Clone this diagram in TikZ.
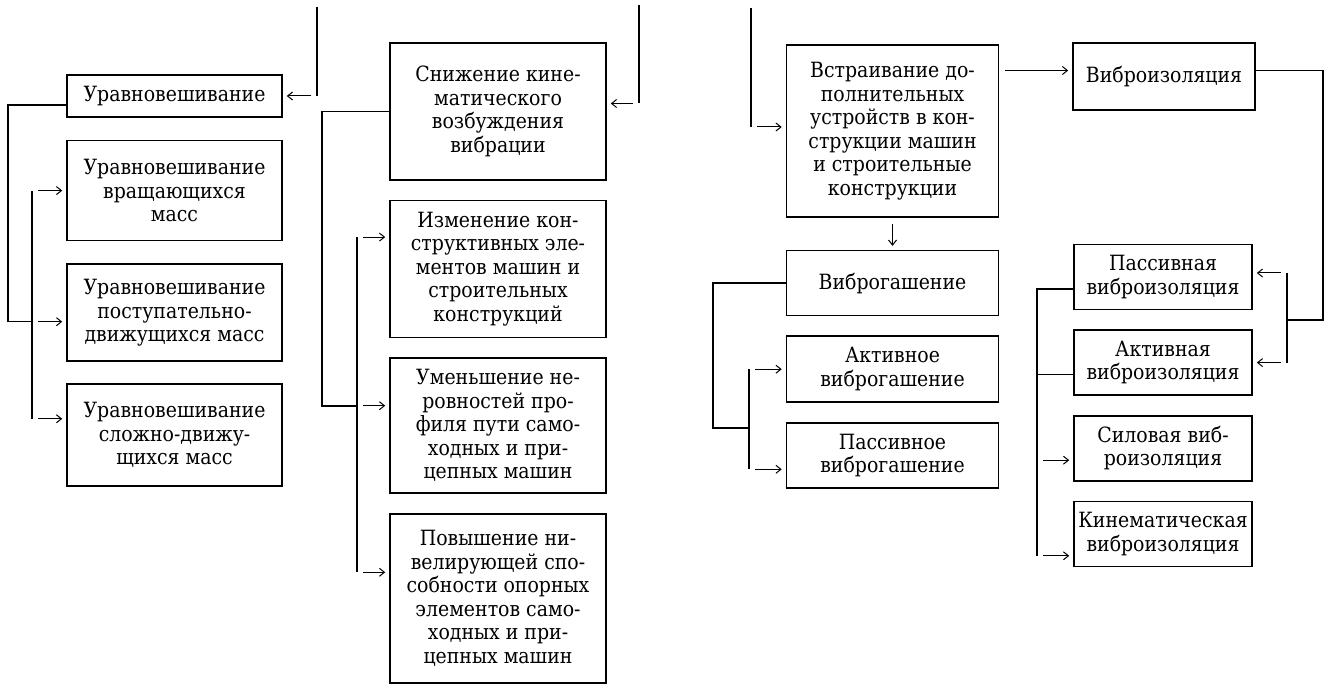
\documentclass[tikz,border=0pt]{standalone}
\usepackage{fontspec}
\setmainfont{DejaVu Serif}[FakeStretch=0.9]
\usetikzlibrary{arrows.meta,positioning}

\begin{document}
\begin{tikzpicture}[
        x=0.5pt, y=-0.5pt,
        font=\fontsize{10.5}{11.75}\selectfont,
        box/.style={draw, line width=0.8pt, align=center, inner xsep=1pt, inner ysep=2pt},
        lcol/.style={box, minimum width=107.5pt},
        mcol/.style={box, minimum width=108pt},
        rcol/.style={box, minimum width=106pt},
        icol/.style={box, minimum width=89pt},
        bus/.style={line width=0.8pt},
        arr/.style={-{Straight Barb[length=2.5pt,width=4pt]}, line width=0.5pt, shorten <=3pt, shorten >=2pt}
    ]
        \useasboundingbox (0,0) rectangle (1331,689);
        % уравновешивание
        \node[lcol, minimum height=21pt] (urav) at (174.5,96) {Уравновешивание};
        \node[lcol, minimum height=50pt, below=11pt of urav] (uvr) {Уравновешивание\\вращающихся\\масс};
        \node[lcol, minimum height=48.5pt, below=11pt of uvr] (upd) {Уравновешивание\\поступательно-\\движущихся масс};
        \node[lcol, minimum height=51pt, below=10.5pt of upd] (usl) {Уравновешивание\\сложно-движу-\\щихся масс};
        % снижение кинематического возбуждения
        \node[mcol, minimum height=68.5pt] (snizh) at (498,111.5) {Снижение кине-\\матического\\возбуждения\\вибрации};
        \node[mcol, minimum height=68.5pt, below=9.5pt of snizh] (izm) {Изменение кон-\\структивных эле-\\ментов машин и\\строительных\\конструкций};
        \node[mcol, minimum height=67.5pt, below=9.5pt of izm] (umen) {Уменьшение не-\\ровностей про-\\филя пути само-\\ходных и при-\\цепных машин};
        \node[mcol, minimum height=84.5pt, below=9.5pt of umen] (pov) {Повышение ни-\\велирующей спо-\\собности опорных\\элементов само-\\ходных и при-\\цепных машин};
        % встраивание устройств
        \node[rcol, minimum height=86pt] (vstr) at (892.5,131) {Встраивание до-\\полнительных\\устройств в кон-\\струкции машин\\и строительные\\конструкции};
        \node[rcol, minimum height=32.5pt, below=16pt of vstr] (vg) {Виброгашение};
        \node[rcol, minimum height=33pt, below=9.5pt of vg] (avg) {Активное\\виброгашение};
        \node[rcol, minimum height=32.5pt, below=9.5pt of avg] (pvg) {Пассивное\\виброгашение};
        \node[box, minimum width=91pt, minimum height=33.5pt] (vi) at (1164,76.5) {Виброизоляция};
        \node[icol, minimum height=32.5pt] (pvi) at (1163,277) {Пассивная\\виброизоляция};
        \node[icol, minimum height=32.5pt, below=9.5pt of pvi] (avi) {Активная\\виброизоляция};
        \node[icol, minimum height=32.5pt, below=9.5pt of avi] (svi) {Силовая виб-\\роизоляция};
        \node[icol, minimum height=32.5pt, below=9.5pt of svi] (kvi) {Кинематическая\\виброизоляция};

        % входы сверху
        \coordinate (inL) at (317,7);
        \coordinate (inM) at (639,5);
        \coordinate (inR) at (751,8);
        \coordinate (snizh-in) at ([yshift=4pt]snizh.east);
        \coordinate (vstr-in) at ([yshift=2pt]vstr.west);
        \draw[bus] (inL) -- (inL |- urav.east);
        \draw[arr] (inL |- urav.east) -- (urav.east);
        \draw[bus] (inM) -- (inM |- snizh-in);
        \draw[arr] (inM |- snizh-in) -- (snizh-in);
        \draw[bus] (inR) -- (inR |- vstr-in);
        \draw[arr] (inR |- vstr-in) -- (vstr-in);

        % левая шина
        \coordinate (outL) at (8,0);
        \coordinate (busL) at (32,0);
        \coordinate (uvr-in) at (uvr.west);
        \coordinate (upd-in) at ([yshift=-4.5pt]upd.west);
        \coordinate (usl-in) at ([yshift=8pt]usl.west);
        \draw[bus] ([yshift=-4.5pt]urav.west) -| (outL |- upd-in) -- (busL |- upd-in);
        \draw[bus] (busL |- uvr-in) -- (busL |- usl-in);
        \foreach \t in {uvr-in,upd-in,usl-in}
            \draw[arr] (busL |- \t) -- (\t);

        % средняя шина
        \coordinate (outM) at (322,0);
        \coordinate (busM) at (357,0);
        \coordinate (izm-in) at ([yshift=16pt]izm.west);
        \coordinate (umen-in) at ([yshift=10pt]umen.west);
        \coordinate (pov-in) at ([yshift=13pt]pov.west);
        \draw[bus] (snizh.west) -| (outM |- umen-in) -- (busM |- umen-in);
        \draw[bus] (busM |- izm-in) -- (busM |- pov-in);
        \foreach \t in {izm-in,umen-in,pov-in}
            \draw[arr] (busM |- \t) -- (\t);

        % виброгашение
        \draw[arr] (vstr) -- (vg);
        \coordinate (outG) at (713,0);
        \coordinate (busG) at (749,0);
        \coordinate (gj) at ([yshift=-3pt]pvg.north);
        \coordinate (avg-in) at (avg.west);
        \coordinate (pvg-in) at ([yshift=-7pt]pvg.west);
        \draw[bus] (vg.west) -| (outG |- gj) -- (busG |- gj);
        \draw[bus] (busG |- avg-in) -- (busG |- pvg-in);
        \foreach \t in {avg-in,pvg-in}
            \draw[arr] (busG |- \t) -- (\t);

        % виброизоляция
        \coordinate (vi-in) at ([yshift=3pt]vi.west);
        \coordinate (vi-out) at ([yshift=3pt]vi.east);
        \draw[arr] (vstr.east |- vi-in) -- (vi-in);
        \coordinate (outV) at (1323,0);
        \coordinate (busV) at (1287,0);
        \coordinate (vj) at ([yshift=-5pt]pvi.south);
        \coordinate (pvi-in) at ([yshift=2pt]pvi.east);
        \coordinate (avi-in) at (avi.east);
        \draw[bus] (vi-out) -| (outV |- vj) -- (busV |- vj);
        \draw[bus] (busV |- pvi-in) -- (busV |- avi-in);
        \foreach \t in {pvi-in,avi-in}
            \draw[arr] (busV |- \t) -- (\t);

        \coordinate (busI) at (1037,0);
        \coordinate (pvi-out) at ([yshift=-6pt]pvi.west);
        \coordinate (avi-out) at ([yshift=-6pt]avi.west);
        \coordinate (svi-in) at ([yshift=-6pt]svi.west);
        \coordinate (kvi-in) at ([yshift=-11pt]kvi.west);
        \draw[bus] (pvi-out) -- (busI |- pvi-out) -- (busI |- kvi-in);
        \draw[bus] (avi-out) -- (busI |- avi-out);
        \foreach \t in {svi-in,kvi-in}
            \draw[arr] (busI |- \t) -- (\t);
    \end{tikzpicture}
\end{document}
